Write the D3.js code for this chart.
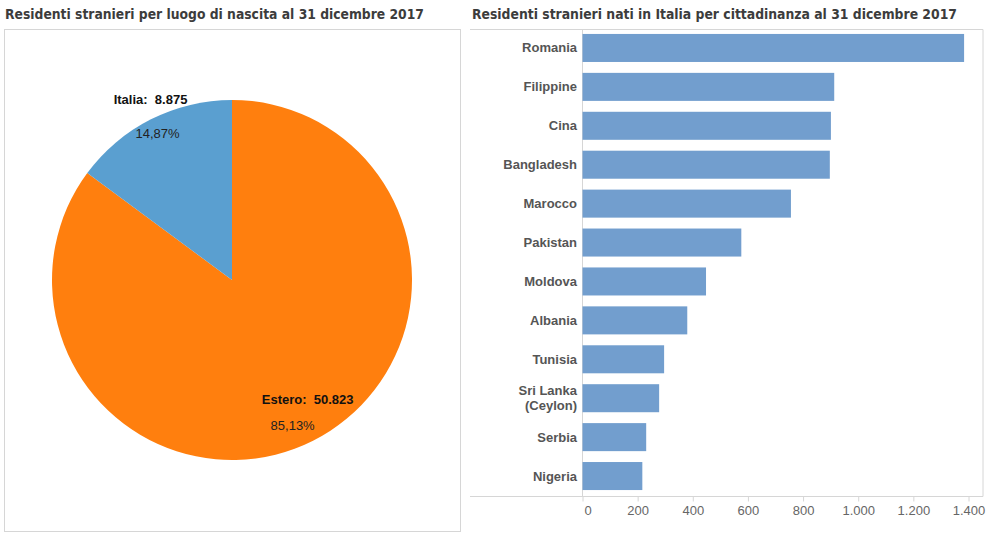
<!DOCTYPE html>
<html><head><meta charset="utf-8">
<script src="https://cdn.jsdelivr.net/npm/d3@7"></script>
<style>
html,body{margin:0;padding:0;background:#fff;}
svg{display:block;}
text{white-space:pre;}
</style>
</head><body>
<svg id="c" width="992" height="536"></svg>
<script>
// ---- data ----
const pieTitle = "Residenti stranieri per luogo di nascita al 31 dicembre 2017";
const barTitle = "Residenti stranieri nati in Italia per cittadinanza al 31 dicembre 2017";
const pieLabels = ["Estero", "Italia"];
const pieValues = [50823, 8875];
const pieColors = ["#FF7F0E", "#5A9FD0"];
const countries = ["Romania","Filippine","Cina","Bangladesh","Marocco","Pakistan","Moldova","Albania","Tunisia","Sri Lanka\n(Ceylon)","Serbia","Nigeria"];
const countryValues = [1384, 913, 901, 897, 756, 576, 448, 380, 296, 278, 231, 217];
const xTicks = [0, 200, 400, 600, 800, 1000, 1200, 1400];

const loc = d3.formatLocale({decimal: ",", thousands: ".", grouping: [3], currency: ["€", ""]});
const fmtInt = loc.format(",d");
const fmtPct = loc.format(".2%");

const svg = d3.select("#c");
const lineCol = "#d6d6d6";

function fitTitle(sel, target) {
  const len = sel.node().getComputedTextLength();
  const fs = parseFloat(sel.attr("font-size"));
  sel.attr("font-size", (fs * target / len).toFixed(2));
}

// ---- left panel ----
const left = svg.append("g");
left.append("rect").attr("x", 4.5).attr("y", 29.5).attr("width", 456).attr("height", 502)
  .attr("fill", "none").attr("stroke", lineCol);
const t1 = left.append("text").attr("x", 5).attr("y", 19).attr("font-family", "DejaVu Sans Condensed, DejaVu Sans")
  .attr("font-stretch", "condensed").attr("font-weight", "bold").attr("font-size", 14).attr("fill", "#3c3c3c").text(pieTitle);
fitTitle(t1, 419);

const cx = 232, cy = 280, R = 180;
const pie = d3.pie().sort(null).startAngle(0).endAngle(2 * Math.PI);
const arcs = pie(pieValues);
const arc = d3.arc().innerRadius(0).outerRadius(R);
const pg = left.append("g").attr("transform", `translate(${cx},${cy})`);
pg.selectAll("path").data(arcs).join("path").attr("d", arc).attr("fill", (d, i) => pieColors[i]);

const total = d3.sum(pieValues);
// label layout (placement only)
const labLayout = [
  {r: 148, dx1: 9, dy1: -8, dx2: -6, dy2: 18},
  {r: 181, dx1: 0, dy1: -14, dx2: 7, dy2: 20}
];
arcs.forEach((a, i) => {
  const m = (a.startAngle + a.endAngle) / 2;
  const L = labLayout[i];
  const bx = Math.sin(m) * L.r, by = -Math.cos(m) * L.r;
  pg.append("text").attr("x", bx + L.dx1).attr("y", by + L.dy1).attr("text-anchor", "middle")
    .attr("font-family", "Liberation Sans, Arial").attr("font-weight", "bold").attr("font-size", 13)
    .attr("fill", "#111").text(pieLabels[i] + ":  " + fmtInt(pieValues[i]));
  pg.append("text").attr("x", bx + L.dx2).attr("y", by + L.dy2).attr("text-anchor", "middle")
    .attr("font-family", "Liberation Sans, Arial").attr("font-size", 13)
    .attr("fill", "#222").text(fmtPct(pieValues[i] / total));
});

// ---- right panel ----
const right = svg.append("g");
const t2 = right.append("text").attr("x", 472).attr("y", 19).attr("font-family", "DejaVu Sans Condensed, DejaVu Sans")
  .attr("font-stretch", "condensed").attr("font-weight", "bold").attr("font-size", 14).attr("fill", "#3c3c3c").text(barTitle);
fitTitle(t2, 485);

const x0 = 582.5, xR = 983, yTop = 29.5, yBot = 496.5;
const x = d3.scaleLinear().domain([0, 1400]).range([x0, 968.5]);
const y = d3.scaleBand().domain(countries).range([yTop - 1, yBot - 1]).paddingInner(0.28).paddingOuter(0.14);

right.append("line").attr("x1", 470).attr("x2", xR).attr("y1", yTop).attr("y2", yTop).attr("stroke", lineCol);
right.append("line").attr("x1", xR).attr("x2", xR).attr("y1", yTop).attr("y2", yBot).attr("stroke", lineCol);
right.append("line").attr("x1", x0).attr("x2", x0).attr("y1", yTop).attr("y2", yBot).attr("stroke", lineCol);

right.selectAll("rect.bar").data(countries).join("rect").attr("class", "bar")
  .attr("x", x0).attr("y", d => y(d)).attr("height", y.bandwidth())
  .attr("width", (d, i) => x(countryValues[i]) - x0).attr("fill", "#729ECE");

right.selectAll("text.cat").data(countries).join("text").attr("class", "cat")
  .attr("text-anchor", "end").attr("font-family", "Liberation Sans, Arial").attr("font-weight", "bold")
  .attr("font-size", 13).attr("fill", "#555")
  .each(function (d) {
    const lines = d.split("\n");
    const cyb = y(d) + y.bandwidth() / 2;
    const t = d3.select(this);
    lines.forEach((ln, k) => {
      t.append("tspan").attr("x", 577)
        .attr("y", cyb + 4.5 + (k - (lines.length - 1) / 2) * 15).text(ln);
    });
  });

const ax = right.append("g").attr("transform", `translate(0,${yBot})`)
  .call(d3.axisBottom(x).tickValues(xTicks).tickFormat(d => fmtInt(d)).tickSize(5).tickSizeOuter(0).tickPadding(4));
ax.select(".domain").remove();
ax.selectAll(".tick line").attr("stroke", lineCol);
ax.selectAll(".tick text").attr("font-family", "Liberation Sans, Arial").attr("font-size", 13).attr("fill", "#666")
  .attr("dx", d => d === 0 ? 5 : 0);
right.append("line").attr("x1", 470).attr("x2", xR).attr("y1", yBot).attr("y2", yBot).attr("stroke", lineCol);
</script>
</body></html>
